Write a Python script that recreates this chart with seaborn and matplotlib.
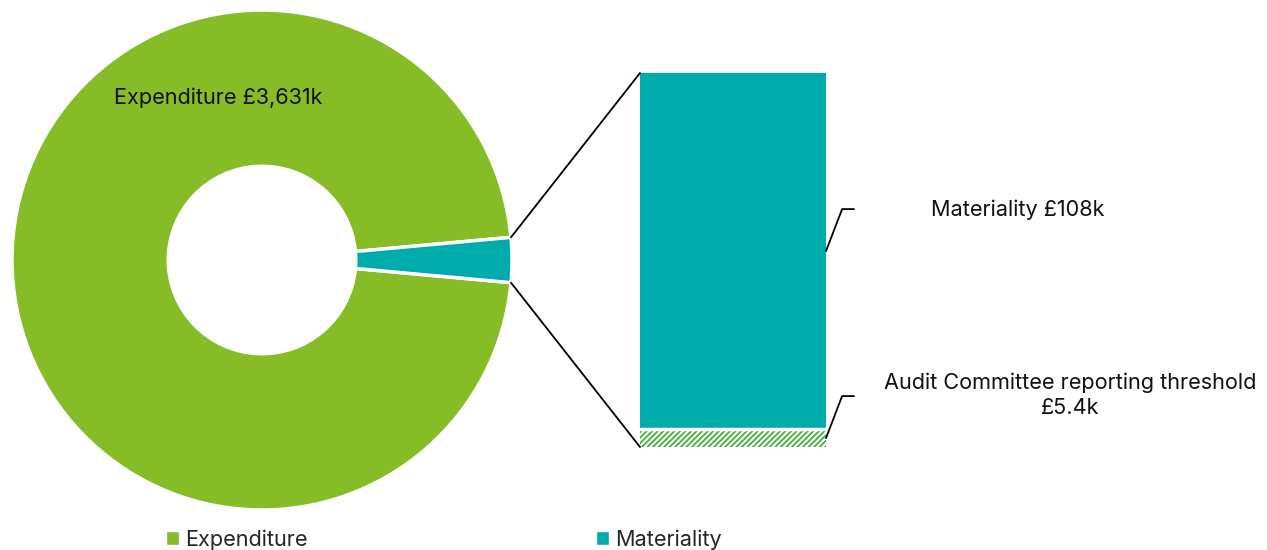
import numpy as np
import pandas as pd
import seaborn as sns
import matplotlib.pyplot as plt
from matplotlib.patches import ConnectionPatch, Patch

# data (GBP thousands)
pie_labels = ["Expenditure", "Materiality"]
pie_values = [3631, 108]
materiality = 108
threshold = 5.4

green = "#86BC25"
teal = "#00ABAB"
hatch_green = "#44B03A"
FS = 15.6


def set_config():
    sns.set_theme(style="white")
    plt.rcParams["font.family"] = ["Inter", "DejaVu Sans"]
    plt.rcParams["hatch.linewidth"] = 1.3


def draw_pie(fig):
    ax = fig.add_axes([12 / 1267, 40 / 550, 500 / 1267, 500 / 550])
    mat_angle = 360 * pie_values[1] / sum(pie_values)
    ax.pie(pie_values, colors=[green, teal], startangle=mat_angle / 2,
           counterclock=True, radius=1,
           wedgeprops=dict(width=0.625, edgecolor="white", linewidth=2.5))
    ax.set_xlim(-1, 1)
    ax.set_ylim(-1, 1)
    ax.set_aspect("equal")
    ax.axis("off")
    ax.text(-0.176, 0.65, f"Expenditure £{pie_values[0]:,}k", ha="center",
            va="center", fontsize=FS, color="#111111")
    return ax, np.radians(mat_angle / 2)


def draw_bar(fig):
    ax = fig.add_axes([640 / 1267, 103 / 550, 186 / 1267, 374 / 550])
    total = materiality + threshold
    df_top = pd.DataFrame({"cat": ["m"], "value": [total]})
    df_low = pd.DataFrame({"cat": ["m"], "value": [threshold]})
    sns.barplot(data=df_top, x="cat", y="value", color=teal, width=1,
                saturation=1, errorbar=None, edgecolor="white", linewidth=0,
                ax=ax)
    sns.barplot(data=df_low, x="cat", y="value", color="white", width=1,
                saturation=1, errorbar=None, ax=ax)
    low = ax.patches[-1]
    low.set_facecolor("white")
    low.set_edgecolor(hatch_green)
    low.set_hatch("//////")
    low.set_linewidth(0)
    ax.axhline(threshold, color="white", linewidth=2.5)
    ax.set_xlim(-0.5, 0.5)
    ax.set_ylim(0, total)
    ax.axis("off")
    return ax, total


def main():
    set_config()
    fig = plt.figure(figsize=(12.67, 5.5), dpi=100)
    ax_pie, half = draw_pie(fig)
    ax_bar, total = draw_bar(fig)

    # connection lines from the slice to the bar
    for ang, yb in [(half, total), (-half, 0)]:
        con = ConnectionPatch(xyA=(np.cos(ang), np.sin(ang)), coordsA=ax_pie.transData,
                              xyB=(-0.5, yb), coordsB=ax_bar.transData,
                              color="black", linewidth=1.3)
        fig.add_artist(con)

    # leader lines and labels
    mid_mat = threshold + materiality / 2
    mid_thr = threshold / 2
    for yv in [mid_mat, mid_thr]:
        ax_bar.annotate("", xy=(0.5, yv), xycoords="data",
                        xytext=(28, 42), textcoords="offset pixels",
                        arrowprops=dict(arrowstyle="-", color="black", lw=1.3,
                                        shrinkA=0, shrinkB=0,
                                        connectionstyle="angle,angleA=0,angleB=69,rad=0"),
                        annotation_clip=False)
    fig.text(931 / 1267, 1 - 210 / 550, f"Materiality £{materiality}k",
             ha="left", va="center", fontsize=FS, color="#111111")
    fig.text(1070 / 1267, 1 - 395 / 550,
             f"Audit Committee reporting threshold\n£{threshold}k",
             ha="center", va="center", fontsize=FS, color="#111111",
             linespacing=1.3)

    # legend
    handles = [Patch(facecolor=green), Patch(facecolor=teal)]
    fig.legend(handles, pie_labels, loc="lower left",
               bbox_to_anchor=(146 / 1267, -0.035), ncol=2, frameon=False,
               fontsize=FS, handlelength=0.6, handleheight=0.6,
               handletextpad=0.3, columnspacing=13.3)

    fig.savefig("out.png", dpi=100, facecolor="white")


if __name__ == "__main__":
    main()
